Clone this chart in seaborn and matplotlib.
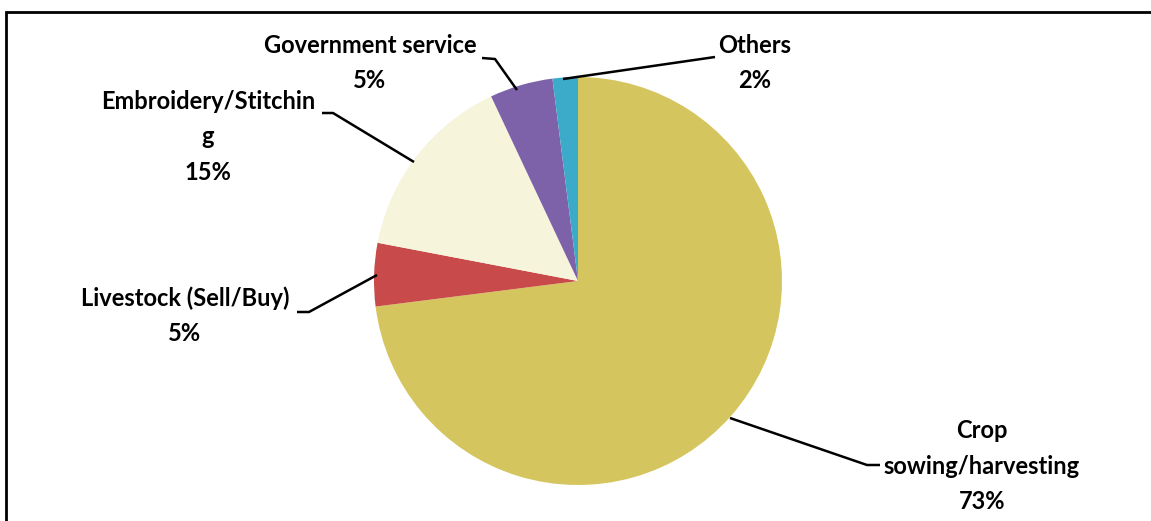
import matplotlib
matplotlib.use("Agg")
import matplotlib.pyplot as plt
import seaborn as sns
from matplotlib.patches import Rectangle

categories = ["Crop sowing/harvesting", "Livestock (Sell/Buy)", "Embroidery/Stitching",
              "Government service", "Others"]
values = [73, 5, 15, 5, 2]
label_texts = ["Crop\nsowing/harvesting\n73%", "Livestock (Sell/Buy)\n5%",
               "Embroidery/Stitchin\ng\n15%", "Government service\n5%", "Others\n2%"]
colors = ["#D5C55E", "#C94A4A", "#F6F4DA", "#7D62AA", "#3BABC9"]

sns.set_theme(style="white")
plt.rcParams['font.family'] = ['Lato', 'DejaVu Sans']

W, H = 1151, 521
fig = plt.figure(figsize=(W / 100, H / 100), dpi=100)
ax = fig.add_axes([0, 0, 1, 1])


def Y(y):
    return H - y


ax.pie(values, colors=sns.color_palette(colors), startangle=90, counterclock=False,
       center=(578, Y(281)), radius=204, wedgeprops=dict(linewidth=0),
       frame=True)
ax.set_xlim(0, W)
ax.set_ylim(0, H)
ax.set_aspect('equal')
ax.axis('off')

# frame (left and top edges visible)
ax.add_patch(Rectangle((6.5, Y(600)), 1300, 600 - 12, fill=False, ec="black", lw=2,
                       clip_on=True))

# label block centres and leader lines
label_pos = [(982, 466), (185, 316), (208, 137), (370, 63), (755, 63)]
leaders = [
    [(730, 418), (867, 465), (880, 465)],
    [(297, 312), (309, 312), (377, 275)],
    [(322, 113), (333, 113), (414, 162)],
    [(482, 58), (495, 59), (517, 90)],
    [(715, 57), (563, 79)],
]
for txt, (x, y), pts in zip(label_texts, label_pos, leaders):
    ax.text(x, Y(y), txt, ha='center', va='center', fontsize=17, fontweight='bold',
            color='black', linespacing=1.65)
    ax.plot([p[0] for p in pts], [Y(p[1]) for p in pts], color='black', lw=1.8,
            solid_capstyle='butt')

fig.savefig("out.png", dpi=100)
